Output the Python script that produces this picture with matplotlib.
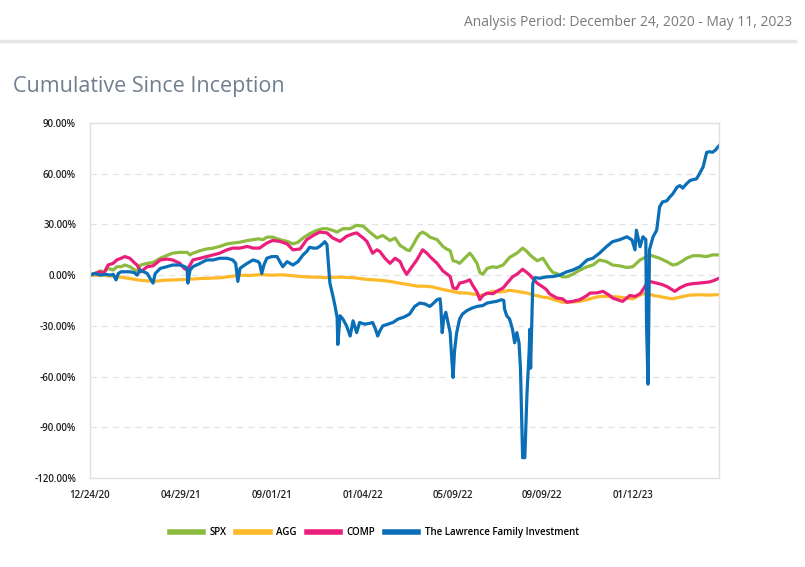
import pandas as pd
import matplotlib
matplotlib.use("Agg")
import matplotlib.pyplot as plt
import matplotlib.dates as mdates
from matplotlib.ticker import FuncFormatter

# day offsets from 12/24/2020 and cumulative return in %
spx_days = [0, 7, 14, 19, 25, 32, 37, 43, 48, 55, 62, 65, 70, 79, 87, 97, 108, 114, 124, 134,
            138, 142, 152, 161, 170, 179, 189, 197, 207, 217, 225, 232, 239, 244, 252, 262, 272, 280, 287, 294,
            303, 313, 321, 327, 335, 341, 349, 359, 368, 377, 382, 386, 396, 404, 414, 421, 428, 432, 437, 441,
            446, 451, 455, 459, 465, 469, 479, 487, 492, 497, 501, 506, 510, 517, 524, 528, 534, 538, 542, 548,
            556, 561, 570, 579, 589, 597, 603, 607, 617, 625, 634, 639, 644, 652, 658, 666, 676, 686, 694, 703,
            713, 721, 731, 741, 749, 759, 766, 772, 779, 786, 796, 804, 810, 818, 823, 832, 841, 851, 859, 868]
spx_vals = [0.5, 1, 2.5, 2, 4, 3, 5, 5, 6, 5, 3, 2.5, 6, 7, 7.5, 10, 12, 13, 13.5, 13.5,
            12, 13, 14.5, 15.5, 16, 17, 18.5, 19, 19.5, 20.5, 21, 21.5, 21, 22.5, 22.5, 21, 20, 18.5, 19.5, 22,
            24.5, 26.5, 27.5, 27.5, 26.5, 25.5, 27.5, 27.5, 29.5, 29, 27, 25.5, 22, 23.5, 20.5, 22, 17.5, 16.5, 15, 14.5,
            18, 22, 24.5, 25.5, 24, 22.5, 21, 17, 15.5, 14.5, 8.5, 8, 7, 10, 13, 11, 7, 1.5, 0.5, 4,
            5, 4.5, 6, 10.5, 13, 16, 14, 12, 8.5, 10, 4, 1.5, 1, -1, -1, 0.5, 3, 5, 6, 9,
            8, 6, 5.5, 4.5, 5, 9, 10.5, 12, 11, 10, 8, 6, 6.5, 8.5, 10, 11.5, 11.5, 11, 12, 12]

agg_days = [0, 14, 28, 43, 55, 69, 80, 90, 103, 117, 135, 152, 166, 181, 193, 207, 221, 234, 252, 266,
            283, 297, 310, 327, 345, 363, 382, 400, 414, 428, 441, 451, 462, 473, 487, 499, 510, 520, 534, 542,
            556, 566, 579, 589, 603, 611, 625, 634, 644, 652, 662, 676, 686, 694, 703, 717, 731, 741, 749, 763,
            768, 777, 786, 796, 804, 814, 828, 841, 855, 868]
agg_vals = [0, 0, -0.5, -1.2, -2, -3, -3.4, -3.6, -3, -2.8, -2.5, -2, -1.8, -1.5, -0.8, 0, -0.2, 0.3, 0, 0.2,
            -0.5, -1, -1.2, -1.4, -1.2, -1.5, -2.5, -3, -3.7, -4.8, -5.7, -6.5, -6.5, -7, -8.5, -9.5, -10.5, -10.6, -11.5, -12,
            -9.5, -10, -9, -9.6, -10.6, -11.6, -13, -13.5, -15, -16, -16, -15.5, -14.5, -13.5, -12.6, -12.6, -13, -13.5, -14, -11,
            -10.6, -12, -12.6, -13.5, -14, -13, -11.8, -11.6, -11.8, -11.5]

comp_days = [0, 7, 14, 19, 25, 32, 37, 43, 48, 55, 62, 65, 70, 79, 87, 97, 106, 114, 124, 130,
             134, 138, 142, 152, 161, 170, 179, 189, 197, 207, 217, 225, 234, 244, 252, 262, 272, 280, 290, 299,
             308, 317, 327, 335, 345, 354, 363, 368, 377, 382, 390, 396, 400, 407, 414, 421, 428, 432, 437, 441,
             451, 459, 465, 469, 479, 487, 497, 501, 506, 510, 517, 524, 528, 534, 538, 542, 548, 556, 561, 570,
             575, 583, 589, 597, 603, 607, 617, 625, 630, 634, 644, 652, 658, 666, 676, 686, 690, 699, 708, 717,
             721, 731, 735, 745, 752, 759, 763, 770, 775, 782, 789, 796, 807, 814, 823, 832, 841, 855, 862, 868]
comp_vals = [0, 1, 2, 1, 6, 7, 9, 10, 11, 10, 7, 6, 2, 5, 5.5, 9, 9.5, 9, 7, 4,
             3, 6, 9, 10, 11, 12, 13, 15, 16, 16, 17, 16, 16, 19, 20.5, 20, 18.5, 15, 15.5, 21,
             23.5, 25.5, 25, 22, 20, 23, 24.5, 25, 22, 20, 13, 15, 14, 10, 7, 10, 8, 4, 0.5, 3,
             9, 15, 13, 11, 7, 2.5, -0.8, -7.5, -8, -4.7, -4, -2.8, -6, -10, -14.5, -12, -10.6, -11, -9.6, -7.6,
             -5, -1, 0.5, 3.5, 1.5, 0, -4.7, -7, -8.6, -11, -13.5, -14, -16, -15.5, -14.5, -12, -10.6, -10.5, -9.6, -12,
             -13.5, -15, -15.5, -12, -12.6, -11, -8.6, -3.7, -4, -4.7, -5.5, -6.7, -9.6, -7.5, -5.7, -5, -4.7, -4, -3, -1.8]

fam_days = [0, 7, 14, 21, 28, 32, 36, 39, 43, 48, 55, 61, 65, 69, 74, 79, 83, 87, 90, 97,
            106, 114, 124, 131, 134, 135, 138, 142, 152, 161, 170, 179, 189, 197, 201, 204, 207, 210, 217, 225,
            232, 234, 237, 240, 244, 251, 258, 262, 266, 272, 276, 280, 287, 294, 299, 303, 308, 313, 317, 321,
            324, 327, 331, 335, 338, 341, 342, 345, 349, 354, 359, 363, 368, 372, 379, 386, 390, 394, 397, 400,
            404, 411, 418, 425, 432, 437, 441, 448, 455, 462, 469, 473, 479, 483, 484, 486, 488, 491, 494, 497,
            499, 501, 503, 506, 510, 514, 520, 527, 534, 542, 548, 554, 561, 568, 571, 572, 575, 579, 583, 586,
            589, 592, 594, 597, 600, 603, 606, 607, 608, 611, 614, 621, 630, 639, 648, 658, 666, 676, 686, 694,
            703, 713, 721, 731, 741, 748, 752, 754, 759, 763, 767, 768, 770, 771, 772, 777, 782, 786, 790, 796,
            800, 804, 810, 814, 818, 823, 828, 832, 837, 841, 846, 851, 855, 859, 863, 868]
fam_vals = [0, 1, 0, 0.5, 0, 0.5, -2.8, 1, 2, 2, 2, 1.5, 0, 3, 2, 1, -2, -4.7, 1, 4,
            5, 6, 6, 5, 4, -4.7, 3, 5, 7, 9, 9, 10, 10, 9, 7, -3.7, 4, 5, 7, 9,
            8, 7, 1, 6, 10, 11, 11, 8, 5, 8, 7, 6, 8, 12, 14, 16.5, 16, 16, 17, 18.5,
            19.8, 18, -4.6, -12, -18, -25, -41, -24, -26, -30, -36, -27, -34, -28, -29, -28.5, -28, -32, -36, -33,
            -30, -29, -28, -26, -25, -24, -23, -18.5, -16.5, -17, -18.5, -17, -14.5, -14, -18, -34, -26, -22, -28, -34,
            -48, -60.5, -45, -34, -26, -23, -21, -19.5, -18.5, -18, -16.5, -16, -15.5, -14.5, -15, -20, -24, -26, -32, -40,
            -34, -40, -55, -108, -108, -70, -45, -32, -55, -5, -1.5, -1.8, -1, -0.8, 0, 2, 3, 5, 9, 10,
            13, 17, 19.8, 21, 22.7, 20.8, 15, 26.6, 16.8, 22.7, 21, -30, -64.5, -30, 15, 22.7, 26.6, 40.4, 43.3, 44,
            46.2, 48, 52, 53, 51.5, 54, 56, 56.5, 57, 60, 64, 72.7, 73, 72.7, 74, 76.6]

tick_dates = ["2020-12-24", "2021-04-29", "2021-09-01", "2022-01-04", "2022-05-09", "2022-09-09", "2023-01-12"]
y_ticks = [-120, -90, -60, -30, 0, 30, 60, 90]

start = pd.Timestamp("2020-12-24")
end = pd.Timestamp("2023-05-11")


def to_dates(days):
    return start + pd.to_timedelta(days, unit="D")


plt.rcParams["font.family"] = ["Open Sans", "DejaVu Sans"]

fig = plt.figure(figsize=(8.05, 5.67), dpi=100)
ax = fig.add_axes([0.1118, 0.157, 0.7814, 0.626])

lw = 2.3
ax.plot(to_dates(spx_days), spx_vals, color="#8cbb3f", lw=lw, label="SPX", solid_joinstyle="round")
ax.plot(to_dates(agg_days), agg_vals, color="#fdb92a", lw=lw, label="AGG", solid_joinstyle="round")
ax.plot(to_dates(comp_days), comp_vals, color="#ea1f7c", lw=lw, label="COMP", solid_joinstyle="round")
ax.plot(to_dates(fam_days), fam_vals, color="#0a6fb7", lw=lw, label="The Lawrence Family Investment",
        solid_joinstyle="round")

ax.set_xlim(start, end)
ax.set_ylim(-120, 90)
ax.set_yticks(y_ticks)
ax.yaxis.set_major_formatter(FuncFormatter(lambda v, p: f"{v:.2f}%"))
ax.set_xticks(pd.to_datetime(tick_dates))
ax.xaxis.set_major_formatter(mdates.DateFormatter("%m/%d/%y"))

for v in y_ticks[1:-1]:
    ax.axhline(v, color="#e3e3e3", lw=0.9, ls=(0, (5, 4)), zorder=0)

for s in ax.spines.values():
    s.set_color("#e0e0e0")
    s.set_linewidth(1)
ax.tick_params(length=0, labelsize=7, colors="#222222")
ax.tick_params(axis="y", pad=10)
ax.tick_params(axis="x", pad=9)
for lab in ax.get_xticklabels() + ax.get_yticklabels():
    lab.set_fontweight("semibold")

leg = fig.legend(loc="center", bbox_to_anchor=(0.465, 0.06), ncol=4, frameon=False,
                 handlelength=3.4, columnspacing=1.0, handletextpad=0.7,
                 prop={"size": 7, "weight": "semibold"})
for h in leg.legend_handles:
    h.set_linewidth(4)

fig.text(0.016, 0.848, "Cumulative Since Inception", fontsize=15.5, color="#6f7f8f", va="center")
fig.text(0.984, 0.961, "Analysis Period: December 24, 2020 - May 11, 2023", fontsize=10,
         color="#7a7a7a", ha="right", va="center")
fig.add_artist(plt.Line2D([0, 0.988], [0.928, 0.928], color="#e6e6e6", lw=2.5, transform=fig.transFigure))

fig.savefig("out.png", dpi=100)
